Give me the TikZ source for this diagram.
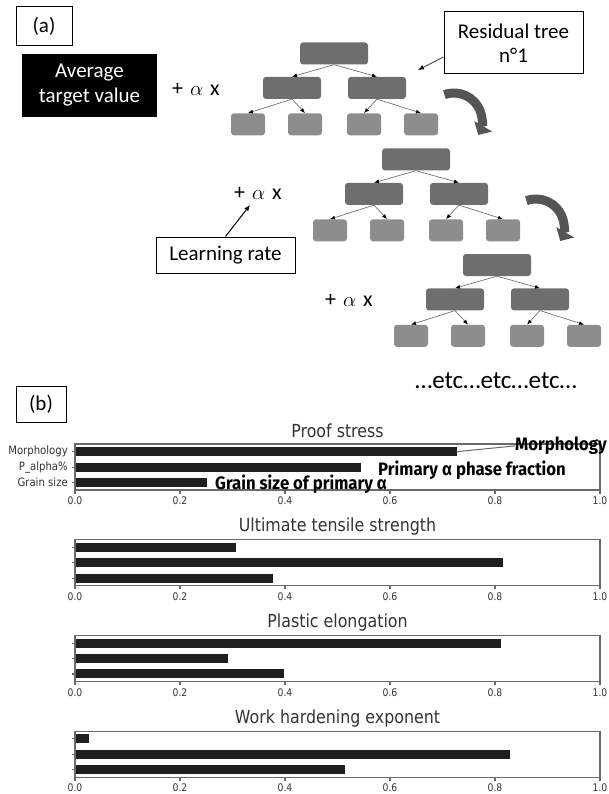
\documentclass[tikz,border=0pt]{standalone}
\usepackage{fontspec}
\setmainfont{Carlito}
\newfontfamily\plotfont[FakeStretch=0.88]{DejaVu Sans}
\newfontfamily\notefont[FakeStretch=0.93]{Fira Sans}
\usetikzlibrary{positioning}
\usetikzlibrary{calc}
\usetikzlibrary{arrows.meta}

\definecolor{darkbox}{HTML}{6E6E6E}
\definecolor{lightbox}{HTML}{8D8D8D}
\definecolor{arrowgray}{HTML}{555555}
\definecolor{framegray}{HTML}{6A6A6A}

\begin{document}
\begin{tikzpicture}[x=1pt,y=-1pt,
	panel/.style={rectangle, draw=black, line width=1pt, fill=white, inner sep=0pt, font=\fontsize{21}{24}\selectfont},
	nodebox/.style={rectangle, rounded corners=3pt, fill=darkbox, minimum height=22pt, inner sep=0pt},
	leafbox/.style={rectangle, rounded corners=3pt, fill=lightbox, minimum width=34pt, minimum height=22pt, inner sep=0pt},
	treelink/.style={draw=black!55, line width=0.7pt, -{Latex[black,length=5pt,width=4pt]}},
	pointer/.style={draw=black, line width=1pt, -{Latex[length=6pt,width=5pt]}},
	nexttree/.style={draw=arrowgray, line width=9pt, -{Triangle[length=10pt,width=20pt]}},
	formula/.style={font=\fontsize{22}{24}\selectfont},
	charttitle/.style={font=\plotfont\fontsize{18}{20}\selectfont, text=black!80},
	ticklabel/.style={font=\plotfont\fontsize{10.5}{12}\selectfont, text=black!80},
	ylabel/.style={font=\plotfont\fontsize{11.5}{13}\selectfont, text=black!80, anchor=east, inner sep=0pt},
	notelabel/.style={font=\notefont\bfseries\fontsize{18}{20}\selectfont, anchor=base west, inner sep=0pt},
	chartframe/.style={draw=framegray, line width=1.2pt},
	bar/.style={fill=black!88}]
	\useasboundingbox (0,0) rectangle (608,794);

	% (a) gradient boosting
	\node[panel, minimum width=56pt, minimum height=39pt] (panela) at (44,26.5) {(a)};
	\node[rectangle, fill=black, text=white, align=center, minimum width=135pt, minimum height=63pt, inner sep=0pt, font=\fontsize{21}{25}\selectfont] (avg) at (89.5,85.5) {Average\\target value};
	\node[formula] (plus1) at (196,89) {+\hspace{7pt}$\alpha$\hspace{7pt}x};
	\node[formula] (plus2) at (258,193) {+\hspace{7pt}$\alpha$\hspace{7pt}x};
	\node[formula] (plus3) at (349,300) {+\hspace{7pt}$\alpha$\hspace{7pt}x};
	\node[panel, align=center, minimum width=139pt, minimum height=62pt] (res) at (513.5,43) {Residual tree\\n°1};
	\node[panel, minimum width=139pt, minimum height=36pt] (lr) at (225.5,255) {Learning rate};
	\node[font=\fontsize{25}{28}\selectfont] (etc) at (496,381) {…etc…etc…etc…};
	\coordinate (restip) at (418,70);
	\coordinate (alphatip) at (250,205);

	% tree 1
	\node[nodebox, minimum width=68pt] (r1) at (334,53.5) {};
	\node[nodebox, minimum width=58pt] (a1) [below=12pt of r1, xshift=-42pt] {};
	\node[nodebox, minimum width=58pt] (b1) [below=12pt of r1, xshift=43pt] {};
	\node[leafbox] (a1l) [below=14pt of a1, xshift=-44pt] {};
	\node[leafbox] (a1r) [below=14pt of a1, xshift=13pt] {};
	\node[leafbox] (b1l) [below=14pt of b1, xshift=-13pt] {};
	\node[leafbox] (b1r) [below=14pt of b1, xshift=44pt] {};
	\draw[treelink] (r1.south) -- (a1.north);
	\draw[treelink] (r1.south) -- (b1.north);
	\draw[treelink] (a1.south) -- (a1l.north);
	\draw[treelink] (a1.south) -- (a1r.north);
	\draw[treelink] (b1.south) -- (b1l.north);
	\draw[treelink] (b1.south) -- (b1r.north);

	% tree 2
	\node[nodebox, minimum width=68pt] (r2) at (416,159.5) {};
	\node[nodebox, minimum width=58pt] (a2) [below=12pt of r2, xshift=-42pt] {};
	\node[nodebox, minimum width=58pt] (b2) [below=12pt of r2, xshift=43pt] {};
	\node[leafbox] (a2l) [below=14pt of a2, xshift=-44pt] {};
	\node[leafbox] (a2r) [below=14pt of a2, xshift=13pt] {};
	\node[leafbox] (b2l) [below=14pt of b2, xshift=-13pt] {};
	\node[leafbox] (b2r) [below=14pt of b2, xshift=44pt] {};
	\draw[treelink] (r2.south) -- (a2.north);
	\draw[treelink] (r2.south) -- (b2.north);
	\draw[treelink] (a2.south) -- (a2l.north);
	\draw[treelink] (a2.south) -- (a2r.north);
	\draw[treelink] (b2.south) -- (b2l.north);
	\draw[treelink] (b2.south) -- (b2r.north);

	% tree 3
	\node[nodebox, minimum width=68pt] (r3) at (497,265) {};
	\node[nodebox, minimum width=58pt] (a3) [below=12pt of r3, xshift=-42pt] {};
	\node[nodebox, minimum width=58pt] (b3) [below=12pt of r3, xshift=43pt] {};
	\node[leafbox] (a3l) [below=14pt of a3, xshift=-44pt] {};
	\node[leafbox] (a3r) [below=14pt of a3, xshift=13pt] {};
	\node[leafbox] (b3l) [below=14pt of b3, xshift=-13pt] {};
	\node[leafbox] (b3r) [below=14pt of b3, xshift=44pt] {};
	\draw[treelink] (r3.south) -- (a3.north);
	\draw[treelink] (r3.south) -- (b3.north);
	\draw[treelink] (a3.south) -- (a3l.north);
	\draw[treelink] (a3.south) -- (a3r.north);
	\draw[treelink] (b3.south) -- (b3l.north);
	\draw[treelink] (b3.south) -- (b3r.north);

	\draw[nexttree] (454,121) ++(-110:28) arc[start angle=-110, end angle=30, radius=28];
	\draw[nexttree] (536,227) ++(-110:28) arc[start angle=-110, end angle=30, radius=28];
	\draw[draw=arrowgray, line width=1pt, -{Latex[black,length=6pt,width=5pt]}] ([yshift=-14pt]res.west) -- (restip);
	\draw[pointer] (lr.north) -- (alphatip);

	% (b) feature importance
	\node[panel, minimum width=50pt, minimum height=36pt] (panelb) at (41,404) {(b)};
	\foreach \k/\ttl/\va/\vb/\vc in {0/Proof stress/0.727/0.545/0.252, 1/Ultimate tensile strength/0.306/0.815/0.378, 2/Plastic elongation/0.812/0.292/0.399, 3/Work hardening exponent/0.026/0.828/0.514}{
		\pgfmathsetmacro{\ctop}{444+95.7*\k}
		\node[charttitle] (title\k) at (337.5,\ctop-13) {\ttl};
		\fill[bar] (75,\ctop+3.2) rectangle ({75+525*\va},\ctop+12.2);
		\fill[bar] (75,\ctop+18.6) rectangle ({75+525*\vb},\ctop+27.6);
		\fill[bar] (75,\ctop+34) rectangle ({75+525*\vc},\ctop+43);
		\draw[chartframe] (75,\ctop) rectangle (600,\ctop+46);
		\foreach \b in {7.7,23.1,38.5}
			\draw[chartframe] (71.5,\ctop+\b) -- (75,\ctop+\b);
		\foreach \t/\lab in {0/0.0,1/0.2,2/0.4,3/0.6,4/0.8,5/1.0}{
			\draw[chartframe] (75+105*\t,\ctop+46) -- (75+105*\t,\ctop+49.5);
			\node[ticklabel] (xl\k\t) at (75+105*\t,\ctop+57) {\lab};
		}
	}
	\node[ylabel] (ymorph) at (68,451.7) {Morphology};
	\node[ylabel] (ypalpha) at (68,467.1) {P\_alpha\%};
	\node[ylabel] (ygrain) at (68,482.5) {Grain size};
	\node[notelabel, anchor=base east] (notemorph) at (607,450.7) {Morphology};
	\node[notelabel] (notepalpha) at (378,475) {Primary α phase fraction};
	\node[notelabel] (notegrain) at (215,489) {Grain size of primary α};
	\coordinate (morphend) at (456.7,451.7);
	\draw[draw=framegray, line width=1pt] (morphend) -- (notemorph.west);
\end{tikzpicture}
\end{document}
